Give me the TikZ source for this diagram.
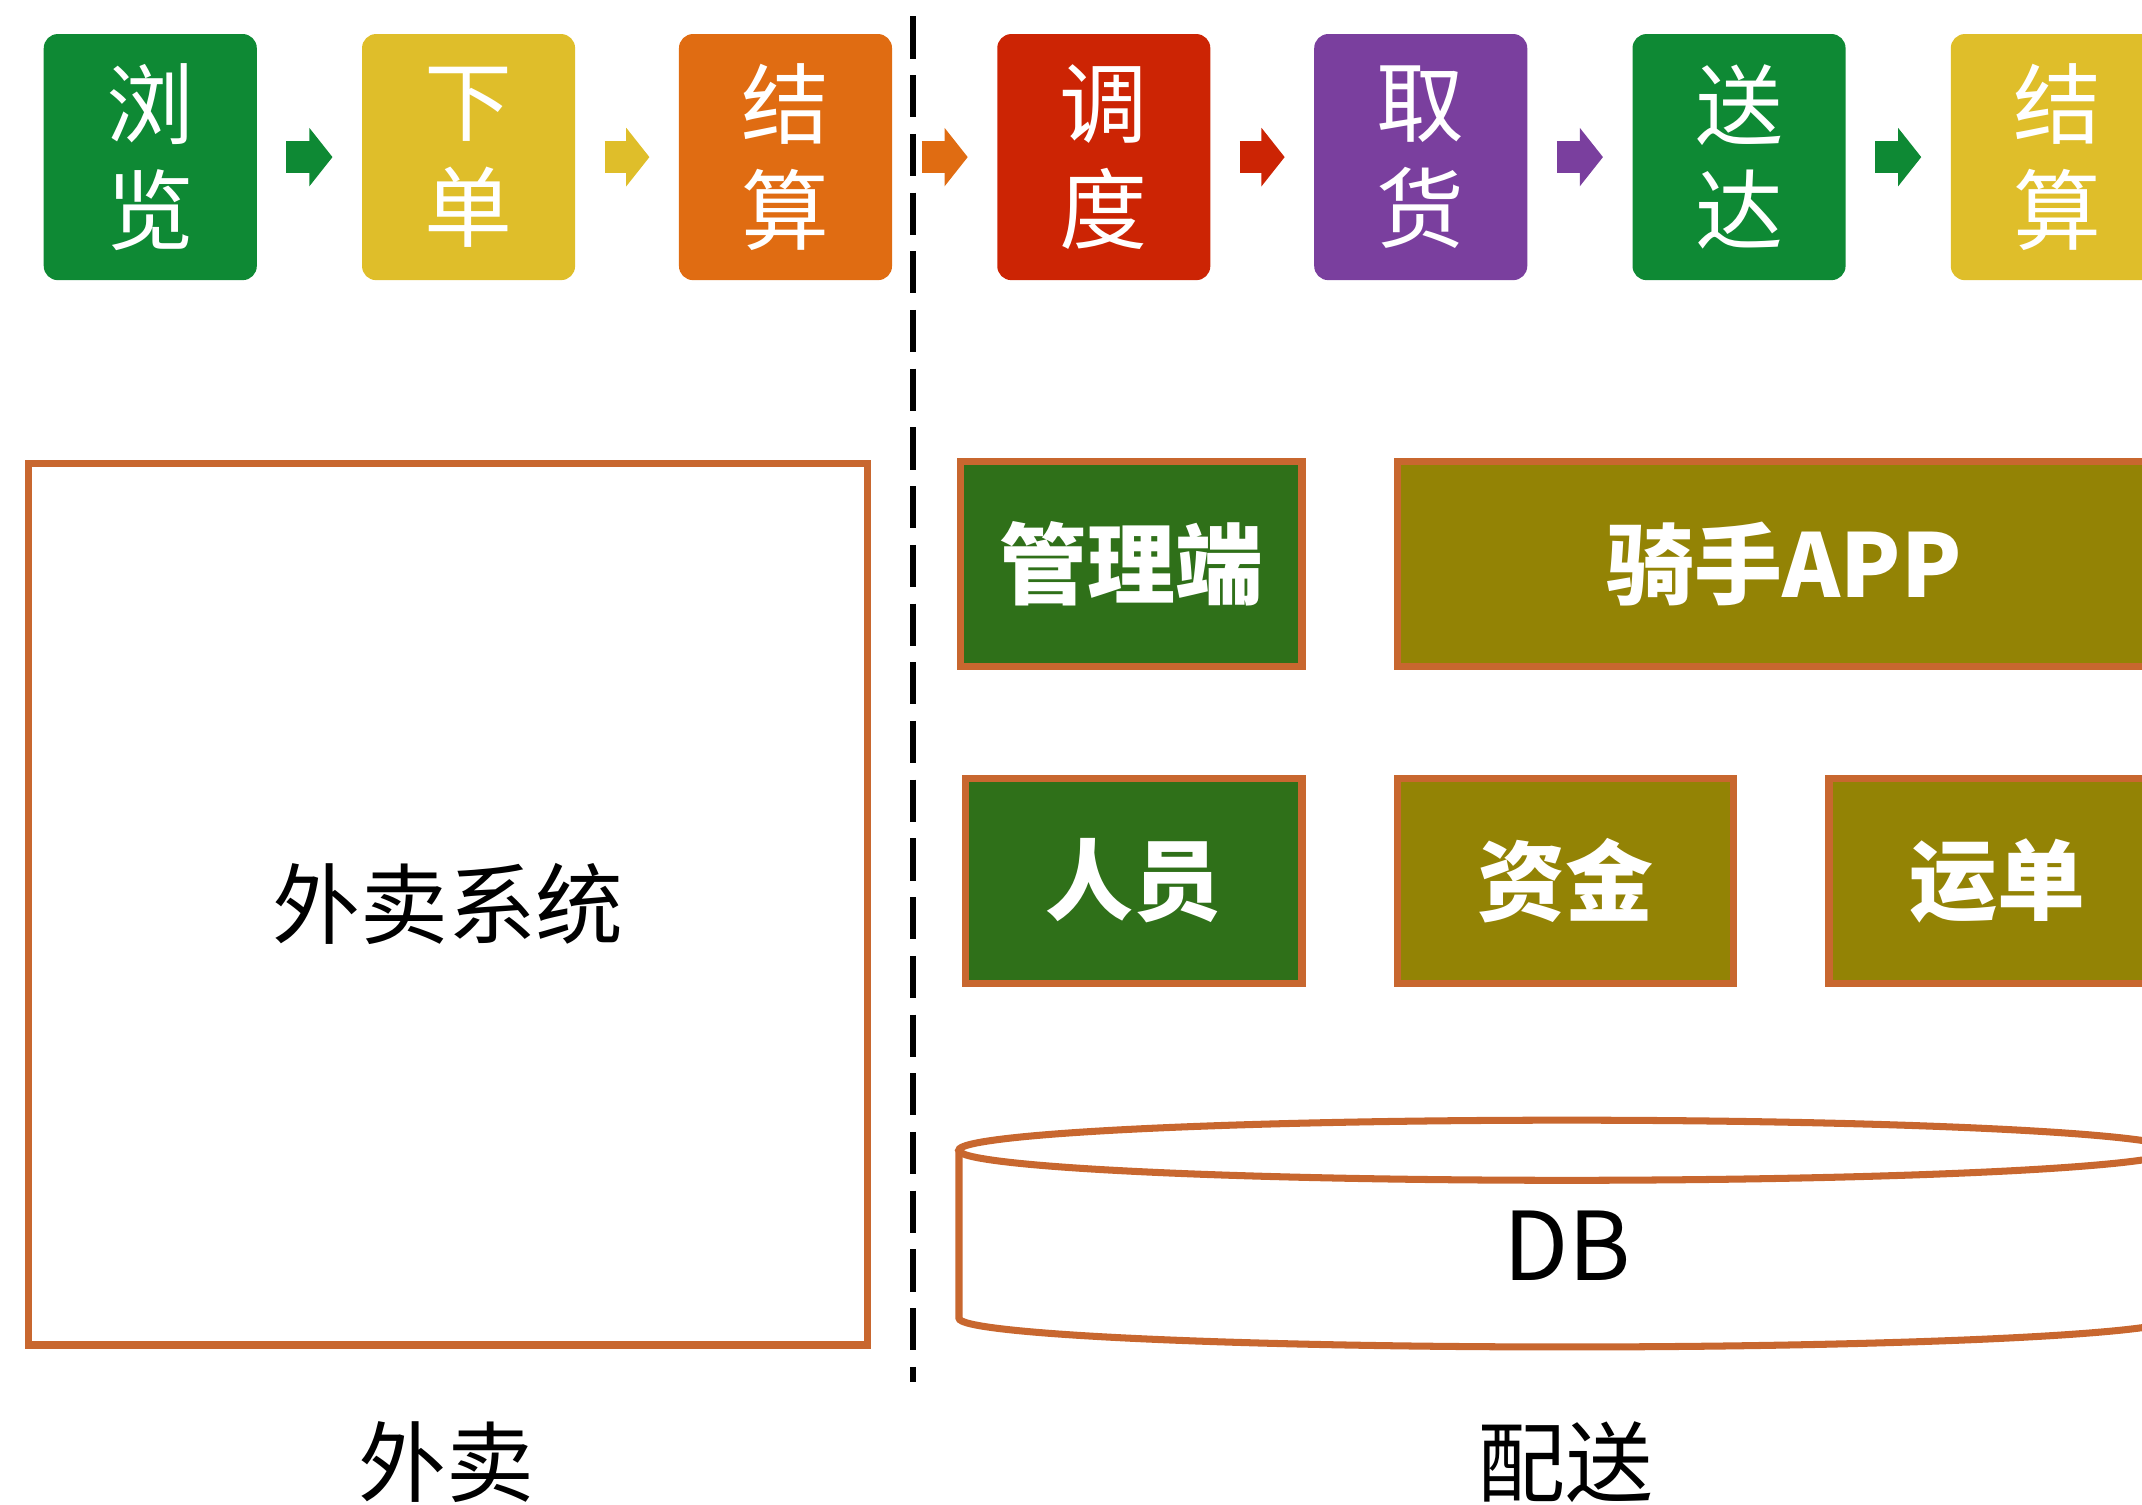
\documentclass[tikz,border=0pt]{standalone}
\usepackage{fontspec}
\setmainfont{Noto Sans CJK SC}
\usetikzlibrary{arrows.meta}
\definecolor{browsegreen}{RGB}{14,137,52}
\definecolor{orderyellow}{RGB}{223,190,42}
\definecolor{payorange}{RGB}{224,108,18}
\definecolor{dispatchred}{RGB}{204,36,4}
\definecolor{pickpurple}{RGB}{122,63,158}
\definecolor{darkgreen}{RGB}{47,112,25}
\definecolor{olive}{RGB}{147,131,5}
\definecolor{edge}{RGB}{200,103,47}
\begin{document}
\begin{tikzpicture}[x=0.013661cm,y=-0.013661cm,
  topbox/.style={rounded corners=4pt,minimum width=60.6pt,minimum height=70pt,inner sep=0pt,
    text=white,align=center,font=\fontsize{25}{30}\selectfont},
  flow/.style={line width=9.3pt,-{Triangle[width=16.3pt,length=6.6pt]},shorten <=8.2pt,shorten >=8.2pt},
  modbox/.style={draw=edge,line width=2.1pt,minimum height=58.3pt,inner sep=0pt,
    text=white,font=\fontsize{25}{30}\selectfont\bfseries},
  sidetext/.style={font=\fontsize{25}{30}\selectfont},
  dbline/.style={draw=edge,line width=2pt}]
\useasboundingbox (0,0) rectangle (1568,1101);
\clip (0,0) rectangle (1568,1101);
% flow steps
\node[topbox,fill=browsegreen] (browse) at (110,115) {浏\\览};
\node[topbox,fill=orderyellow] (order) at (343,115) {下\\单};
\node[topbox,fill=payorange] (pay) at (575,115) {结\\算};
\node[topbox,fill=dispatchred] (dispatch) at (808,115) {调\\度};
\node[topbox,fill=pickpurple] (pickup) at (1040,115) {取\\货};
\node[topbox,fill=browsegreen] (deliver) at (1273,115) {送\\达};
\node[topbox,fill=orderyellow] (settle) at (1506,115) {结\\算};
\draw[flow,browsegreen] (browse) -- (order);
\draw[flow,orderyellow] (order) -- (pay);
\draw[flow,payorange] (pay) -- (dispatch);
\draw[flow,dispatchred] (dispatch) -- (pickup);
\draw[flow,pickpurple] (pickup) -- (deliver);
\draw[flow,browsegreen] (deliver) -- (settle);
% divider
\coordinate (divtop) at (668,12);
\coordinate (divbot) at (668,1012);
\draw[line width=1.7pt,dash pattern=on 12pt off 4.7pt] (divtop) -- (divbot);
% takeaway side
\node[draw=edge,line width=2.1pt,minimum width=238.7pt,minimum height=250.7pt,sidetext] (takeaway) at (328,662) {外卖系统};
\node[sidetext] (takeawaylabel) at (327,1070) {外卖};
% delivery side
\node[modbox,fill=darkgreen,minimum width=97.2pt] (admin) at (828,413) {管理端};
\node[modbox,fill=olive,minimum width=220pt] (rider) at (1306,413) {骑手APP};
\node[modbox,fill=darkgreen,minimum width=95.6pt] (staff) at (830,645) {人员};
\node[modbox,fill=olive,minimum width=95.6pt] (funds) at (1146,645) {资金};
\node[modbox,fill=olive,minimum width=95.6pt] (waybill) at (1462,645) {运单};
\draw[dbline] (1147,842) ellipse [x radius=173pt,y radius=8.55pt];
\draw[dbline] (702,842) -- (702,965) arc [start angle=180,end angle=360,x radius=173pt,y radius=8.16pt] -- (1592,842);
\node[font=\fontsize{27}{30}\selectfont] (db) at (1147,912) {DB};
\node[sidetext] (deliverylabel) at (1146,1070) {配送};
\end{tikzpicture}
\end{document}
